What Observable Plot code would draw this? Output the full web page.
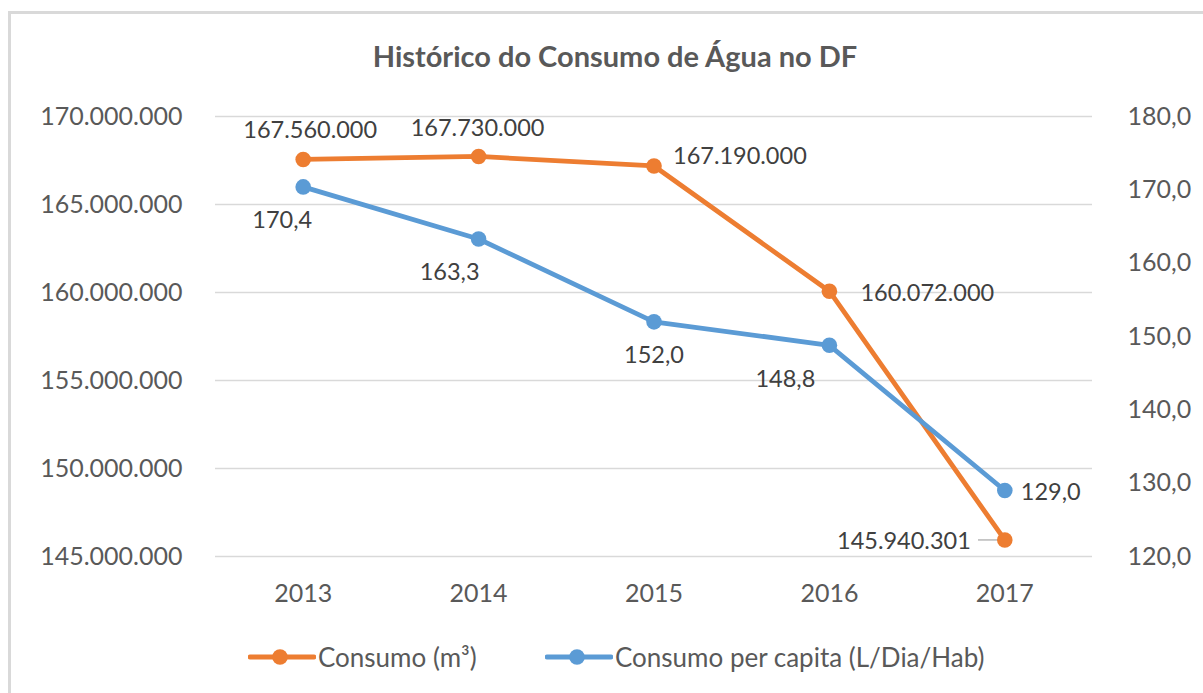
<!DOCTYPE html>
<html><head><meta charset="utf-8">
<script src="https://cdn.jsdelivr.net/npm/d3@7"></script>
<script src="https://cdn.jsdelivr.net/npm/@observablehq/plot@0.6"></script>
<style>
body{margin:0;background:#fff;font-family:Lato,"Open Sans",sans-serif;}
#page{position:relative;width:1203px;height:693px;overflow:hidden;background:#fff;}
#frame{position:absolute;left:8px;top:11px;width:1300px;height:800px;border:3px solid #d9d9d9;box-sizing:border-box;}
#title{position:absolute;left:0;width:1230px;top:39px;text-align:center;font-size:29px;font-weight:bold;color:#595959;line-height:1.2;}
#chart{position:absolute;left:0;top:80px;}
#legend{position:absolute;top:643px;left:0;width:1203px;height:28px;font-size:26px;color:#595959;}
.item{position:absolute;top:0;display:flex;align-items:center;height:28px;}
.item svg{display:block;margin-right:2px;}
</style></head>
<body><div id="page"><div id="frame"></div><div id="title">Histórico do Consumo de Água no DF</div><div id="chart"></div><div id="legend"></div></div>
<script>
const years = [2013, 2014, 2015, 2016, 2017];
const consumo = [167560000, 167730000, 167190000, 160072000, 145940301];
const perCapita = [170.4, 163.3, 152.0, 148.8, 129.0];
const leftTicks = [145000000, 150000000, 155000000, 160000000, 165000000, 170000000];
const rightTicks = [120, 130, 140, 150, 160, 170, 180];
const seriesNames = ["Consumo (m³)", "Consumo per capita (L/Dia/Hab)"];
const colors = ["#ED7D31", "#5B9BD5"];

// label placement (pixel offsets), per series and year
const consumoLabelPos = [
  {dx: 7, dy: -29, anchor: "middle"},
  {dx: -1, dy: -28, anchor: "middle"},
  {dx: 19, dy: -9, anchor: "start"},
  {dx: 31, dy: 2, anchor: "start"},
  {dx: -34, dy: 2, anchor: "end"}
];
const perCapitaLabelPos = [
  {dx: -21, dy: 34, anchor: "middle"},
  {dx: -29, dy: 34, anchor: "middle"},
  {dx: 0, dy: 34, anchor: "middle"},
  {dx: -44, dy: 34, anchor: "middle"},
  {dx: 16, dy: 2, anchor: "start"}
];

const loc = d3.formatLocale({decimal: ",", thousands: ".", grouping: [3], currency: ["R$", ""]});
const fmtInt = loc.format(",d");
const fmt1 = loc.format(".1f");

// map right-axis values onto the left scale
const L0 = leftTicks[0], L1 = leftTicks[leftTicks.length - 1];
const R0 = rightTicks[0], R1 = rightTicks[rightTicks.length - 1];
const toLeft = v => L0 + (v - R0) / (R1 - R0) * (L1 - L0);
const fromLeft = v => R0 + (v - L0) / (L1 - L0) * (R1 - R0);

const cData = years.map((y, i) => ({year: y, v: consumo[i], label: fmtInt(consumo[i])}));
const pData = years.map((y, i) => ({year: y, v: toLeft(perCapita[i]), label: fmt1(perCapita[i])}));

const axisFs = 25;
const labelFs = 23.5;
const labelMarks = [];
cData.forEach((d, i) => {
  const p = consumoLabelPos[i];
  labelMarks.push(Plot.text([d], {x: "year", y: "v", text: "label", dx: p.dx, dy: p.dy, textAnchor: p.anchor, fontSize: labelFs, fill: "#404040"}));
});
pData.forEach((d, i) => {
  const p = perCapitaLabelPos[i];
  labelMarks.push(Plot.text([d], {x: "year", y: "v", text: "label", dx: p.dx, dy: p.dy, textAnchor: p.anchor, fontSize: labelFs, fill: "#404040"}));
});

const last = cData[cData.length - 1];
const chart = Plot.plot({
  width: 1203,
  height: 530,
  marginTop: 36,
  marginBottom: 54,
  marginLeft: 215,
  marginRight: 111,
  style: {fontFamily: "Lato, 'Open Sans', sans-serif", color: "#595959", background: "transparent", overflow: "visible"},
  x: {type: "linear", domain: [years[0] - 0.5, years[years.length - 1] + 0.5]},
  y: {domain: [L0, L1]},
  marks: [
    Plot.gridY(leftTicks, {stroke: "#d9d9d9", strokeOpacity: 1, strokeWidth: 1.3}),
    Plot.axisY(leftTicks, {anchor: "left", tickSize: 0, tickPadding: 33, tickFormat: fmtInt, fontSize: axisFs, label: null}),
    Plot.axisY(rightTicks.map(toLeft), {anchor: "right", tickSize: 0, tickPadding: 35, tickFormat: d => fmt1(fromLeft(d)), fontSize: axisFs, label: null}),
    Plot.axisX(years, {tickSize: 0, tickPadding: 28, tickFormat: d => String(d), fontSize: axisFs, label: null}),
    Plot.ruleY([last], {y: "v", x1: d => d.year - 0.15, x2: d => d.year - 0.03, stroke: "#a6a6a6", strokeWidth: 1.2}),
    Plot.line(cData, {x: "year", y: "v", stroke: colors[0], strokeWidth: 4.8}),
    Plot.line(pData, {x: "year", y: "v", stroke: colors[1], strokeWidth: 4.8}),
    Plot.dot(cData, {x: "year", y: "v", r: 7.8, fill: colors[0], stroke: "none"}),
    Plot.dot(pData, {x: "year", y: "v", r: 7.8, fill: colors[1], stroke: "none"}),
    ...labelMarks
  ]
});
document.getElementById("chart").appendChild(chart);

const legendX = [248, 545];
const legend = document.getElementById("legend");
seriesNames.forEach((name, i) => {
  const item = document.createElement("div");
  item.className = "item";
  item.style.left = legendX[i] + "px";
  item.innerHTML = `<svg width="68" height="20"><line x1="2" x2="66" y1="10" y2="10" stroke="${colors[i]}" stroke-width="4.8" stroke-linecap="round"/><circle cx="32" cy="10" r="7.8" fill="${colors[i]}"/></svg><span>${name}</span>`;
  legend.appendChild(item);
});
</script>
</body></html>
